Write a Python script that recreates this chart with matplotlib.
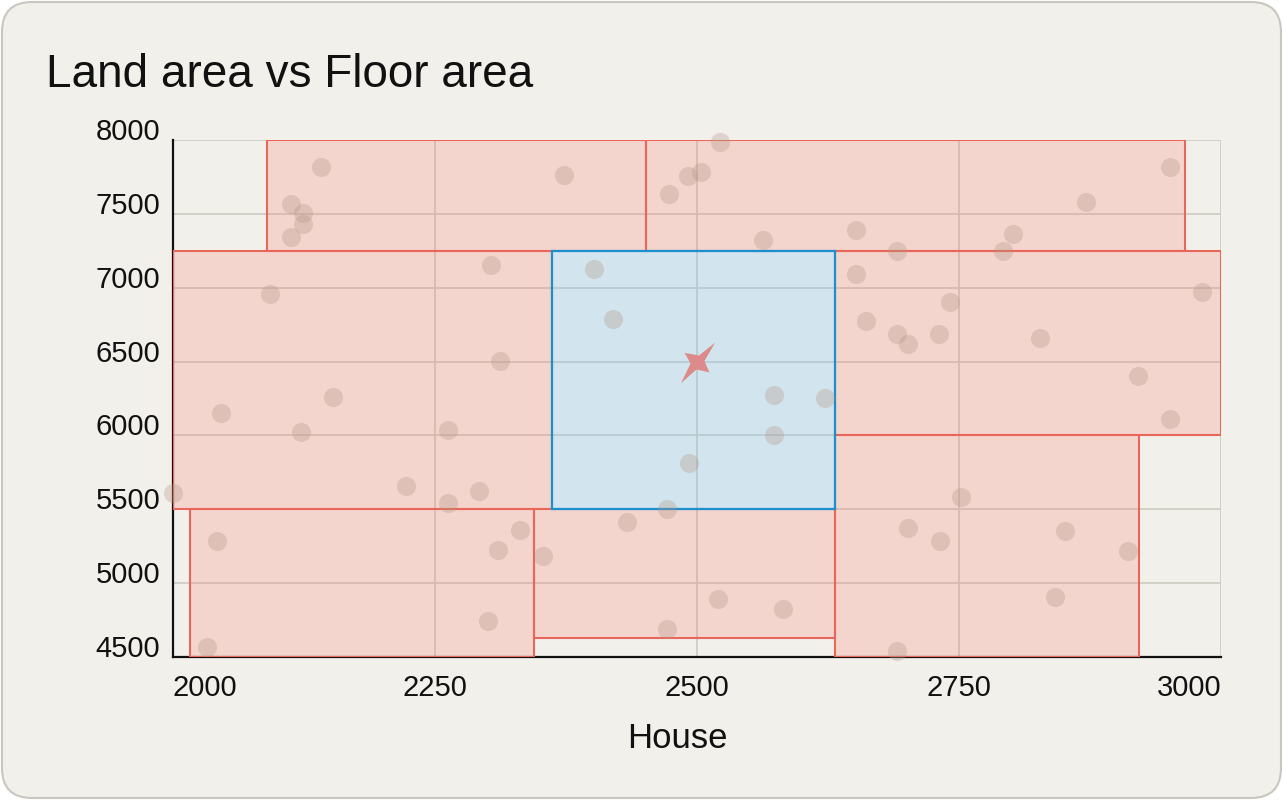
import matplotlib
matplotlib.use("Agg")
import matplotlib.pyplot as plt
import matplotlib.patches as mpatches
import matplotlib.transforms as mtransforms
from matplotlib.path import Path
import numpy as np

plt.rcParams['font.family'] = ['Liberation Sans', 'DejaVu Sans']

# ---------------- data ----------------
title = "Land area vs Floor area"
x_label = "House"
x_ticks = [2000, 2250, 2500, 2750, 3000]
y_ticks = [4500, 5000, 5500, 6000, 6500, 7000, 7500, 8000]

house_x = [2141, 2113, 2124, 2124, 2113, 2303, 2093, 2312, 2153, 2373,
           2522, 2504, 2491, 2473, 2563, 2652, 2691, 2402, 2652, 2420,
           2661, 2691, 2573, 2622, 2951, 2871, 2802, 2792, 2741, 2982,
           2701, 2731, 2827, 2921, 2046, 2122, 2262, 2000, 2222, 2292,
           2262, 2042, 2331, 2310, 2353, 2301, 2032, 2573, 2492, 2471,
           2433, 2520, 2582, 2471, 2691, 2951, 2752, 2701, 2732, 2851,
           2911, 2842]
land_y = [7819, 7567, 7504, 7429, 7341, 7154, 6955, 6502, 6260, 7763,
          7988, 7785, 7758, 7632, 7321, 7389, 7250, 7125, 7093, 6788,
          6775, 6685, 6274, 6253, 7815, 7578, 7364, 7251, 6901, 6973,
          6617, 6685, 6658, 6402, 6150, 6023, 6035, 5608, 5656, 5624,
          5540, 5287, 5358, 5222, 5182, 4742, 4566, 6003, 5811, 5502,
          5412, 4891, 4823, 4688, 4541, 6109, 5581, 5373, 5283, 5351,
          5216, 4904]

# region rectangles: x0, x1, y0, y1
red_x0 = [2090, 2451, 2000, 2632, 2016, 2344, 2632]
red_x1 = [2451, 2966, 2362, 3000, 2344, 2632, 2922]
red_y0 = [7250, 7250, 5500, 6000, 4500, 4628, 4500]
red_y1 = [8000, 8000, 7250, 7250, 5500, 5500, 6000]
blue_x0, blue_x1, blue_y0, blue_y1 = 2362, 2632, 5500, 7250
target_x, target_y = 2500, 6500

# ---------------- figure ----------------
W, H = 1283, 800
fig = plt.figure(figsize=(W / 100, H / 100), dpi=100)
fig.patch.set_facecolor('white')
bg = '#f2f0eb'
card = mpatches.FancyBboxPatch((2, 2), W - 4, H - 4,
                               boxstyle="round,pad=0,rounding_size=30",
                               facecolor=bg, edgecolor='#c9c7c0', linewidth=1.5,
                               transform=mtransforms.IdentityTransform(), zorder=0)
fig.add_artist(card)

ax = fig.add_axes([173 / W, 1 - 657 / H, (1221 - 173) / W, (657 - 140) / H])
ax.set_facecolor('none')
ax.set_xlim(2000, 3000)
ax.set_ylim(4500, 8000)
ax.set_xticks(x_ticks)
ax.set_yticks(y_ticks)
ax.set_axisbelow(True)
ax.grid(True, color='#cfcdc4', linewidth=1.3)
for s in ['top', 'right']:
    ax.spines[s].set_visible(False)
for s in ['left', 'bottom']:
    ax.spines[s].set_color('#111111')
    ax.spines[s].set_linewidth(1.6)
ax.tick_params(length=0, labelsize=21, colors='#111111')
ax.tick_params(axis='x', pad=12)
ax.tick_params(axis='y', pad=9)
for lbl in ax.get_yticklabels():
    lbl.set_va('baseline')
xl = ax.get_xticklabels()
xl[0].set_ha('left')
xl[-1].set_ha('right')

# rectangles
for x0, x1, y0, y1 in zip(red_x0, red_x1, red_y0, red_y1):
    ax.add_patch(mpatches.Rectangle((x0, y0), x1 - x0, y1 - y0,
                                    facecolor=(1.0, 0.47, 0.42, 0.22),
                                    edgecolor='#e8665a', linewidth=1.5, zorder=3))
ax.add_patch(mpatches.Rectangle((blue_x0, blue_y0), blue_x1 - blue_x0, blue_y1 - blue_y0,
                                facecolor=(0.45, 0.78, 0.97, 0.25),
                                edgecolor='#1b8fd0', linewidth=1.6, zorder=3.5))

# points
ax.scatter(house_x, land_y, s=190, color='#b49888', alpha=0.33,
           linewidths=0, zorder=4, clip_on=False)

# star marker
tips = [(17.7, 20.0), (-13.0, 9.7), (-16.7, -21.0), (12.0, -10.0)]
inner = [(1.5, 7.0), (-7.0, -1.0), (-1.0, -7.0), (7.0, 1.5)]
verts = []
for t, i in zip(tips, inner):
    verts.append(t)
    verts.append(i)
verts.append(verts[0])
codes = [Path.MOVETO] + [Path.LINETO] * (len(verts) - 2) + [Path.CLOSEPOLY]
star = Path(verts, codes)
ax.scatter([target_x], [target_y], marker=star, s=30 ** 2, color='#dc8a8a',
           linewidths=0, zorder=5)

# labels
ax.set_xlabel(x_label, fontsize=25, color='#111111')
ax.xaxis.set_label_coords((677 - 173) / 1048, -(748 - 657) / 517)
ax.xaxis.label.set_va('baseline')
fig.text(46 / W, 1 - 87 / H, title, fontsize=33, color='#111111',
         ha='left', va='baseline')

fig.savefig('out.png', dpi=100, facecolor='white')
